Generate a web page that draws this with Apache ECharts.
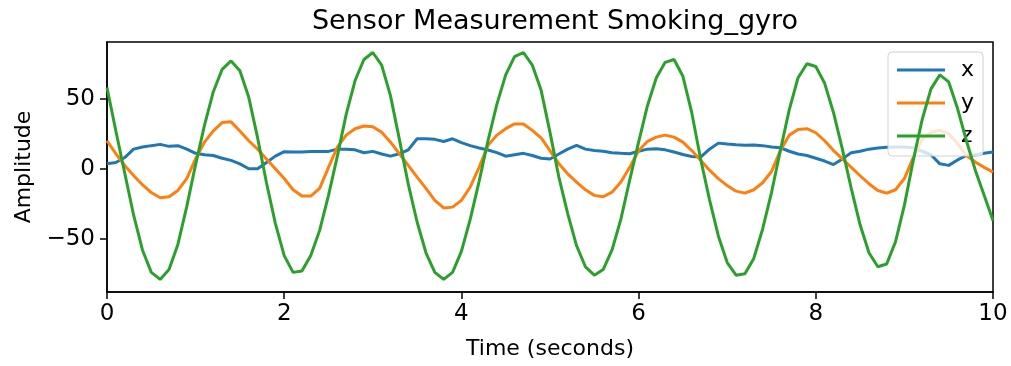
<!DOCTYPE html>
<html>
<head>
<meta charset="utf-8">
<script src="https://cdn.jsdelivr.net/npm/echarts@6/dist/echarts.min.js"></script>
<style>
  html, body { margin: 0; padding: 0; background: #fff; }
  #chart { width: 1011px; height: 366px; }
</style>
</head>
<body>
<div id="chart"></div>
<script>
// Sample spacing of the recording (seconds)
const sampleStep = 0.1;

// Gyro X axis
const gyroX = [
  3.6, 4.5, 8, 14, 15.5, 16.5, 17.4, 16, 16.5, 14,
  11, 10, 9.5, 7.5, 6, 3.5, 0, 0, 4.5, 9,
  12.2, 12, 12, 12.4, 12.4, 12.4, 14, 14, 13.5, 11.4,
  12.4, 10.5, 9, 10.7, 13.5, 21.4, 21.4, 21, 19.5, 21.4,
  18.7, 16.5, 14.8, 13.4, 11.5, 9, 10, 11, 9.5, 7.5,
  7, 10.5, 14, 16.7, 14, 13, 12.5, 11.5, 11, 10.7,
  12.5, 14, 14.3, 13.5, 12, 10.2, 8.7, 8.3, 14, 18.3,
  17.6, 17.1, 16.7, 17, 16.5, 15.5, 15, 12.5, 10.5, 9.5,
  7.5, 5.5, 3, 7, 11.5, 12.5, 14, 14.8, 15.4, 15.5,
  15.6, 15, 12.5, 10, 3.5, 2.4, 6.3, 9.5, 10, 11,
  12
];

// Gyro Y axis
const gyroY = [
  20, 10.7, 2.4, -4.8, -11.4, -17, -20.7, -20, -15.5, -7,
  7, 19, 27, 33, 33.5, 27, 20, 14, 7, 0,
  -7, -15, -19.5, -19.5, -14, 1, 15.5, 24, 28.6, 30.5,
  30, 26, 19, 10.7, 2.4, -6, -14, -22.6, -28, -27.4,
  -22.6, -13, 1, 16.7, 24, 28.6, 32, 32, 27.4, 22,
  13, 3.6, -3.6, -9.5, -15, -19, -20, -16.7, -9.5, 1,
  13, 19.5, 22.6, 24, 22.6, 19, 13, 6, -1, -7,
  -12, -16, -17.4, -15, -10, -2, 13, 24, 28, 28.6,
  25.7, 20, 13, 7, 1, -5, -10.7, -15.5, -17.4, -15,
  -7, 8, 21, 26, 27.4, 25, 18, 9.5, 4.8, 1,
  -2.4
];

// Gyro Z axis
const gyroZ = [
  58, 27, -3, -33, -58, -74, -79, -72, -54, -27,
  3, 31, 55, 71, 77, 70, 51, 22, -10, -39,
  -62, -74, -73, -62, -44, -19, 9, 39, 63, 78,
  83, 74, 52, 21, -11, -38, -60, -74, -79, -74,
  -59, -36, -9, 20, 46, 67, 80, 83, 74, 56,
  26, -6, -32, -55, -70, -76, -72, -58, -36, -8,
  19, 45, 65, 76, 78, 66, 40, 7, -22, -48,
  -67, -76, -75, -64, -43, -17, 13, 42, 65, 75,
  73, 61, 40, 14, -14, -40, -60, -70, -68, -52,
  -26, 6, 35, 57, 67, 62, 43, 20, -1, -19,
  -37
];

const seriesNames = ['x', 'y', 'z'];
const xTicks = [0, 2, 4, 6, 8, 10];
const yTicks = [-50, 0, 50];

const titleText = 'Sensor Measurement Smoking_gyro';
const xLabel = 'Time (seconds)';
const yLabel = 'Amplitude';

const colors = ['#1f77b4', '#ff7f0e', '#2ca02c'];
const font = 'DejaVu Sans';

function pairs(vals) {
  return vals.map((v, i) => [Math.round(i * sampleStep * 1000) / 1000, v]);
}

const chart = echarts.init(document.getElementById('chart'), null, { renderer: 'canvas' });

const axisCommon = {
  axisLine: { show: true, onZero: false, lineStyle: { color: '#000', width: 1.5 } },
  axisTick: { show: true, inside: false, length: 7, lineStyle: { color: '#000', width: 1.5 } },
  splitLine: { show: false },
  axisLabel: { color: '#000', fontFamily: font, fontSize: 23 },
  nameTextStyle: { color: '#000', fontFamily: font, fontSize: 22 }
};

chart.setOption({
  animation: false,
  backgroundColor: '#fff',
  color: colors,
  title: {
    text: titleText,
    left: 550,
    textAlign: 'center',
    top: 3,
    textStyle: { fontFamily: font, fontSize: 27, fontWeight: 'normal', color: '#000' }
  },
  grid: {
    left: 107, right: 18, top: 42, bottom: 74,
    show: true, borderColor: '#000', borderWidth: 1.5, backgroundColor: 'transparent'
  },
  legend: {
    data: seriesNames,
    orient: 'vertical',
    left: 888,
    top: 52,
    padding: [7, 9, 9, 9],
    itemGap: 11,
    itemWidth: 48,
    itemHeight: 3,
    icon: 'rect',
    backgroundColor: 'rgba(255,255,255,0.8)',
    borderColor: 'rgba(204,204,204,0.9)',
    borderWidth: 1,
    borderRadius: 4,
    textStyle: { fontFamily: font, fontSize: 22, color: '#000', lineHeight: 22, padding: [0, 0, 0, 11] }
  },
  xAxis: Object.assign({}, axisCommon, {
    type: 'value',
    min: 0,
    max: 10,
    interval: 2,
    name: xLabel,
    nameLocation: 'middle',
    nameGap: 46,
    axisLabel: Object.assign({}, axisCommon.axisLabel, { margin: 11, customValues: xTicks }),
    axisTick: Object.assign({}, axisCommon.axisTick, { customValues: xTicks })
  }),
  yAxis: Object.assign({}, axisCommon, {
    type: 'value',
    min: -88,
    max: 90.5,
    name: yLabel,
    nameLocation: 'middle',
    nameRotate: 90,
    nameGap: 72,
    axisLabel: Object.assign({}, axisCommon.axisLabel, { margin: 12, customValues: yTicks,
      formatter: v => (v < 0 ? '\u2212' + Math.abs(v) : String(v)) }),
    axisTick: Object.assign({}, axisCommon.axisTick, { customValues: yTicks })
  }),
  series: [
    { name: seriesNames[0], type: 'line', data: pairs(gyroX), showSymbol: false, lineStyle: { width: 3 }, z: 2 },
    { name: seriesNames[1], type: 'line', data: pairs(gyroY), showSymbol: false, lineStyle: { width: 3 }, z: 3 },
    { name: seriesNames[2], type: 'line', data: pairs(gyroZ), showSymbol: false, lineStyle: { width: 3 }, z: 4 }
  ]
});
</script>
</body>
</html>
